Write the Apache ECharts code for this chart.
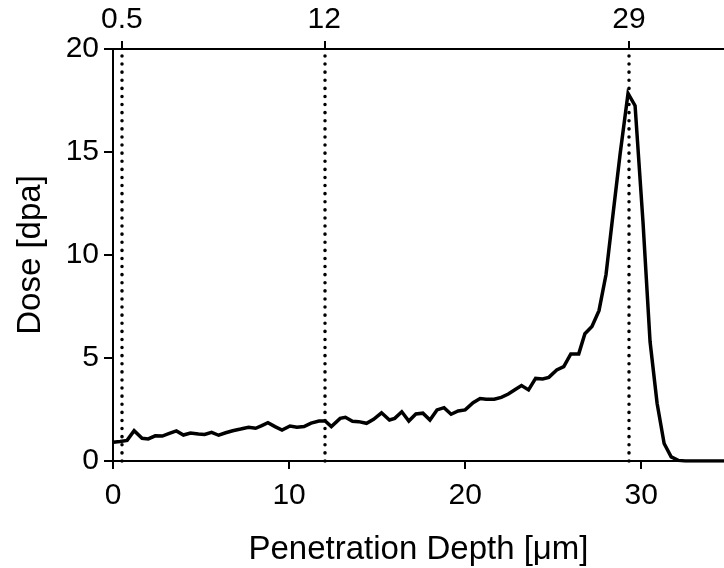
<!DOCTYPE html>
<html>
<head>
<meta charset="utf-8">
<script src="https://cdn.jsdelivr.net/npm/echarts@6/dist/echarts.min.js"></script>
<style>html,body{margin:0;padding:0;background:#fff}#c{width:724px;height:568px}</style>
</head>
<body>
<div id="c"></div>
<script>
var depth = [0.0,0.4,0.8,1.2,1.65,2.0,2.4,2.8,3.2,3.6,4.0,4.4,4.85,5.2,5.6,6.0,6.4,6.8,7.25,7.7,8.1,8.45,8.8,9.2,9.6,10.05,10.45,10.85,11.25,11.7,12.05,12.4,12.9,13.2,13.6,13.95,14.4,14.8,15.25,15.7,16.0,16.4,16.8,17.2,17.6,18.0,18.4,18.8,19.2,19.6,20.0,20.45,20.85,21.2,21.65,22.05,22.45,22.8,23.2,23.6,24.0,24.4,24.75,25.2,25.6,26.0,26.45,26.8,27.2,27.6,28.0,28.4,28.8,29.25,29.65,30.1,30.5,30.9,31.3,31.7,32.1,32.5,32.9,33.3,33.7,34.1,34.5,34.9];
var dose = [0.91,0.95,1.0,1.47,1.10,1.07,1.22,1.21,1.34,1.46,1.26,1.36,1.31,1.29,1.39,1.25,1.37,1.47,1.55,1.64,1.59,1.72,1.86,1.67,1.50,1.70,1.64,1.67,1.84,1.94,1.94,1.67,2.07,2.12,1.93,1.91,1.83,2.02,2.34,1.99,2.07,2.39,1.94,2.28,2.32,1.99,2.48,2.59,2.27,2.43,2.48,2.83,3.03,3.0,3.0,3.09,3.25,3.45,3.66,3.45,4.01,3.98,4.06,4.42,4.58,5.2,5.2,6.18,6.53,7.3,9.05,12.0,14.9,17.85,17.25,11.6,5.8,2.8,0.85,0.2,0.03,0,0,0,0,0,0,0];
var markDepths = [0.5, 12, 29.3];
var markLabels = ['0.5', '12', '29'];
var xTicks = [0, 10, 20, 30];
var yTicks = [0, 5, 10, 15, 20];
var xTitle = 'Penetration Depth [\u03bcm]';
var yTitle = 'Dose [dpa]';

var pts = depth.map(function(d, i){ return [d, dose[i]]; });
var FONT = 'Liberation Sans, Arial, sans-serif';
var chart = echarts.init(document.getElementById('c'));
var axisLine = {show: true, onZero: false, lineStyle: {color: '#000', width: 2}};
chart.setOption({
  animation: false,
  backgroundColor: '#fff',
  grid: {left: 113, right: 0, top: 49, bottom: 107, containLabel: false, outerBoundsMode: 'none'},
  xAxis: [{
    type: 'value', min: 0, max: 34.7, position: 'bottom',
    axisLine: axisLine,
    axisTick: {show: true, length: 8, inside: false, lineStyle: {color: '#000', width: 2}, customValues: xTicks},
    axisLabel: {color: '#000', fontSize: 30, fontFamily: FONT, margin: 20, customValues: xTicks},
    splitLine: {show: false},
    name: xTitle, nameLocation: 'middle', nameGap: 72,
    nameTextStyle: {color: '#000', fontSize: 33, fontFamily: FONT}
  }, {
    type: 'value', min: 0, max: 34.7, position: 'top',
    axisLine: axisLine,
    axisTick: {show: true, length: 8, lineStyle: {color: '#000', width: 2}, customValues: markDepths},
    axisLabel: {color: '#000', fontSize: 30, fontFamily: FONT, margin: 14, customValues: markDepths,
      formatter: function(v){ var i = markDepths.indexOf(v); return i >= 0 ? markLabels[i] : ''; }},
    splitLine: {show: false}
  }],
  yAxis: {
    type: 'value', min: 0, max: 20, interval: 5,
    axisLine: axisLine,
    axisTick: {show: true, length: 9, lineStyle: {color: '#000', width: 2}, customValues: yTicks},
    axisLabel: {color: '#000', fontSize: 30, fontFamily: FONT, margin: 14, customValues: yTicks},
    splitLine: {show: false},
    name: yTitle, nameLocation: 'middle', nameGap: 66, nameRotate: 90,
    nameTextStyle: {color: '#000', fontSize: 33, fontFamily: FONT}
  },
  series: [{
    type: 'line', data: pts, xAxisIndex: 0, showSymbol: false, symbol: 'none',
    lineStyle: {color: '#000', width: 3.5, join: 'miter'},
    clip: true,
    markLine: {
      silent: true, symbol: ['none', 'none'], label: {show: false},
      lineStyle: {color: '#000', width: 3.5, type: [0.1, 8], cap: 'round'},
      data: markDepths.map(function(d){ return {xAxis: d}; })
    }
  }]
});
</script>
</body>
</html>
